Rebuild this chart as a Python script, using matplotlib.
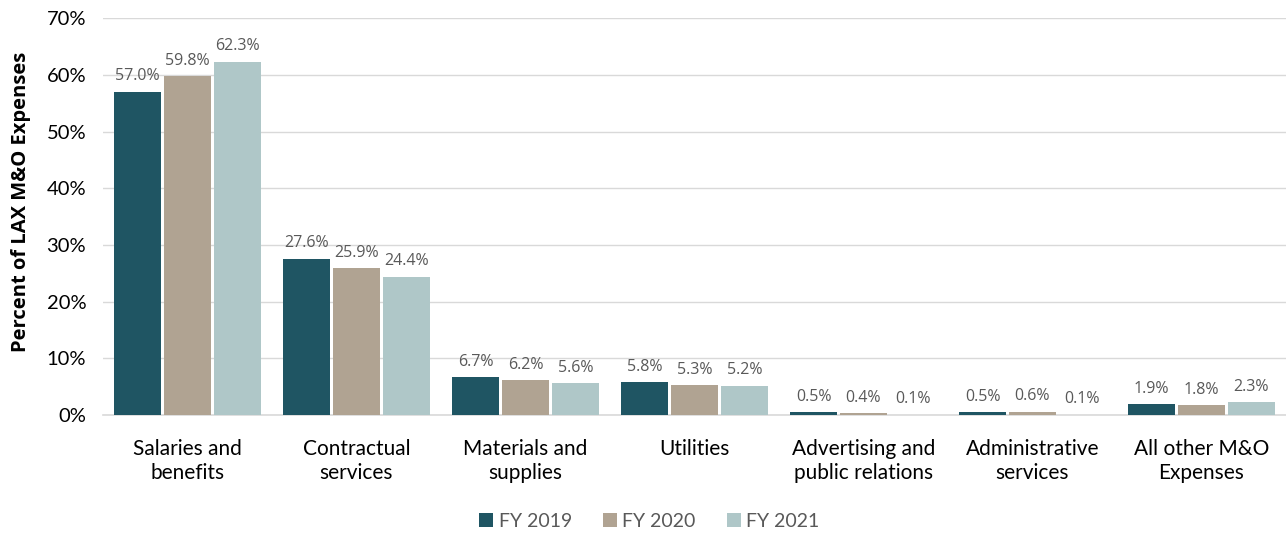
import numpy as np
import matplotlib.pyplot as plt
from matplotlib.ticker import PercentFormatter

categories = ['Salaries and\nbenefits', 'Contractual\nservices', 'Materials and\nsupplies',
              'Utilities', 'Advertising and\npublic relations', 'Administrative\nservices',
              'All other M&O\nExpenses']
fy2019 = [57.0, 27.6, 6.7, 5.8, 0.5, 0.5, 1.9]
fy2020 = [59.8, 25.9, 6.2, 5.3, 0.4, 0.6, 1.8]
fy2021 = [62.3, 24.4, 5.6, 5.2, 0.1, 0.1, 2.3]
series = ['FY 2019', 'FY 2020', 'FY 2021']
colores = ['#1F5563', '#B0A392', '#AFC7C8']

plt.rcParams['font.family'] = ['Lato', 'DejaVu Sans']

fig = plt.figure(figsize=(12.86, 5.33), dpi=100)
ax = fig.add_axes([0.080, 0.221, 0.920, 0.745])

x = np.arange(len(categories))
paso = 0.295
ancho = 0.28
for i, (vals, nombre) in enumerate(zip([fy2019, fy2020, fy2021], series)):
    pos = x + (i - 1) * paso
    barras = ax.bar(pos, vals, ancho, color=colores[i], label=nombre, zorder=3)
    for b, v in zip(barras, vals):
        ax.text(b.get_x() + b.get_width() / 2, v + 1.3, '%.1f%%' % v,
                ha='center', va='bottom', fontsize=11.5, color='#595959',
                family=['Open Sans', 'DejaVu Sans'])

ax.set_xlim(-0.5, len(categories) - 0.5)
ax.set_ylim(0, 70)
ax.set_yticks(range(0, 71, 10))
ax.yaxis.set_major_formatter(PercentFormatter(decimals=0))
ax.grid(axis='y', color='#D9D9D9', linewidth=1, zorder=0)
for s in ['top', 'right', 'left']:
    ax.spines[s].set_visible(False)
ax.spines['bottom'].set_color('#D9D9D9')
ax.spines['bottom'].set_linewidth(1.2)
ax.tick_params(axis='both', length=0, colors='black')
ax.tick_params(axis='x', pad=17, labelsize=15)
ax.tick_params(axis='y', pad=12, labelsize=14.5)
ax.set_xticks(x)
ax.set_xticklabels(categories, linespacing=1.25)
ax.set_ylabel('Percent of LAX M&O Expenses', fontsize=14.5, fontweight='bold',
              family=['Open Sans', 'DejaVu Sans'])
ax.yaxis.set_label_coords(-0.061, 0.537)

h, l = ax.get_legend_handles_labels()
fig.legend(h, l, loc='center', bbox_to_anchor=(0.505, 0.022), ncol=3, frameon=False,
           fontsize=14, handlelength=0.7, handleheight=0.7, handletextpad=0.3,
           columnspacing=1.6, labelcolor='#595959')

fig.savefig('out.png', dpi=100)
